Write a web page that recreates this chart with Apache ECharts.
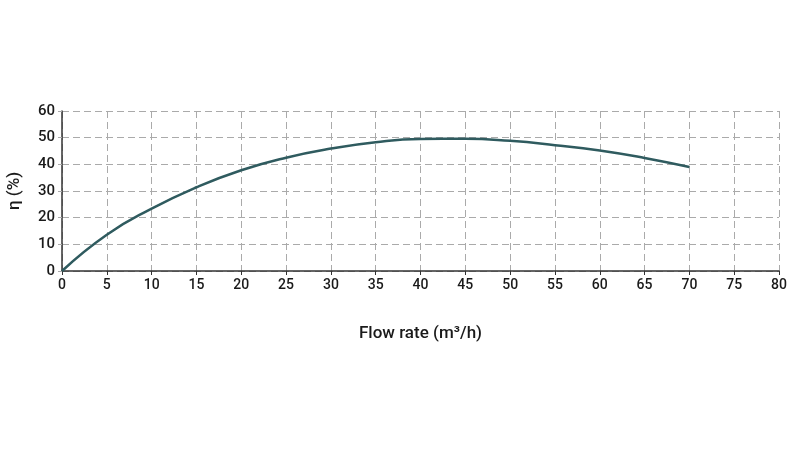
<!DOCTYPE html>
<html>
<head>
<meta charset="utf-8">
<script src="https://cdn.jsdelivr.net/npm/echarts@6/dist/echarts.min.js"></script>
<style>
  html, body { margin: 0; padding: 0; background: #fff; }
  #chart { width: 800px; height: 450px; }
</style>
</head>
<body>
<div id="chart"></div>
<script>
// flow rate (m3/h) vs efficiency (%)
const flowRate = [0, 5, 10, 15, 20, 25, 30, 35, 40, 45, 50, 55, 60, 65, 70]
const efficiency = [0, 13.6, 23.4, 31.4, 37.8, 42.5, 45.9, 48.3, 49.5, 49.6, 48.8, 47.2, 45.2, 42.4, 39.0]

const chart = echarts.init(document.getElementById('chart'))
const fontColor = '#1a1a1a'
const gridColor = '#aaa'

const options = {
  animation: false,
  textStyle: { fontFamily: 'Roboto' },
  grid: {
    left: 62,
    right: 21,
    top: 111,
    bottom: 179,
    outerBoundsMode: 'none'
  },
  xAxis: {
    type: 'value',
    min: 0,
    max: 80,
    interval: 5,
    name: 'Flow rate (m³/h)',
    nameLocation: 'middle',
    nameGap: 54,
    nameTextStyle: { color: fontColor, fontSize: 17, fontWeight: 500 },
    axisLabel: { color: fontColor, fontSize: 14, fontWeight: 500, margin: 7 },
    axisLine: { show: true, lineStyle: { color: '#333', width: 1.5 } },
    axisTick: { show: true, length: 4, lineStyle: { color: '#333' } },
    splitLine: {
      show: true,
      lineStyle: { color: gridColor, type: [7, 4], width: 1 }
    }
  },
  yAxis: {
    type: 'value',
    min: 0,
    max: 60,
    interval: 10,
    name: 'η (%)',
    nameLocation: 'middle',
    nameGap: 39,
    nameTextStyle: { color: fontColor, fontSize: 17, fontWeight: 500 },
    axisLabel: { color: fontColor, fontSize: 15, fontWeight: 500, margin: 7 },
    axisLine: { show: true, lineStyle: { color: '#333', width: 1.5 } },
    axisTick: { show: true, length: 4, lineStyle: { color: gridColor } },
    splitLine: {
      show: true,
      lineStyle: { color: gridColor, type: [7, 4], width: 1 }
    }
  },
  series: [{
    type: 'line',
    smooth: true,
    showSymbol: false,
    lineStyle: { color: '#2f5b5f', width: 2.5 },
    data: flowRate.map((x, i) => [x, efficiency[i]])
  }]
}
chart.setOption(options)
</script>
</body>
</html>
